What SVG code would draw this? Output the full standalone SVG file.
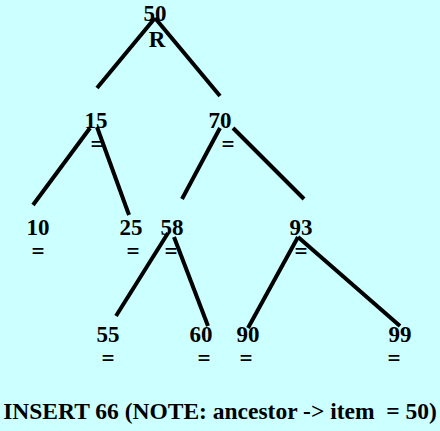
<svg xmlns="http://www.w3.org/2000/svg" width="440" height="431" viewBox="0 0 440 431">
<style>
text{font-family:"Liberation Serif","Times New Roman",serif;font-weight:bold;font-size:23px;fill:#000;text-anchor:middle}
.c line{stroke:#000;stroke-width:4}
</style>
<rect width="440" height="431" fill="#ccffff"/>
<g class="c" id="connectors">
<line x1="155" y1="18" x2="97" y2="88"/>
<line x1="155" y1="18" x2="220" y2="96"/>
<line x1="90" y1="128" x2="33" y2="205"/>
<line x1="97" y1="127" x2="129" y2="215"/>
<line x1="220" y1="128" x2="182" y2="199"/>
<line x1="233" y1="128" x2="304" y2="199"/>
<line x1="168" y1="233" x2="116" y2="316"/>
<line x1="174" y1="237" x2="208" y2="326"/>
<line x1="298" y1="237" x2="248" y2="328"/>
<line x1="298" y1="237" x2="400" y2="326"/>
</g>
<g id="n50"><text x="155" y="21">50</text><text x="157" y="47">R</text></g>
<g id="n15"><text x="96" y="128">15</text><text x="97" y="152">=</text></g>
<g id="n70"><text x="220" y="128">70</text><text x="228" y="152">=</text></g>
<g id="n10"><text x="38" y="235">10</text><text x="38" y="259">=</text></g>
<g id="n25"><text x="131" y="235">25</text><text x="133" y="259">=</text></g>
<g id="n58"><text x="172" y="235">58</text><text x="171" y="259">=</text></g>
<g id="n93"><text x="301" y="235">93</text><text x="301" y="259">=</text></g>
<g id="n55"><text x="108" y="342">55</text><text x="108" y="366">=</text></g>
<g id="n60"><text x="201" y="342">60</text><text x="204" y="366">=</text></g>
<g id="n90"><text x="248" y="342">90</text><text x="246" y="366">=</text></g>
<g id="n99"><text x="400" y="342">99</text><text x="394" y="366">=</text></g>
<text x="220" y="419" style="font-size:23.5px" xml:space="preserve">INSERT 66 (NOTE: ancestor -&gt; item  = 50)</text>
</svg>
